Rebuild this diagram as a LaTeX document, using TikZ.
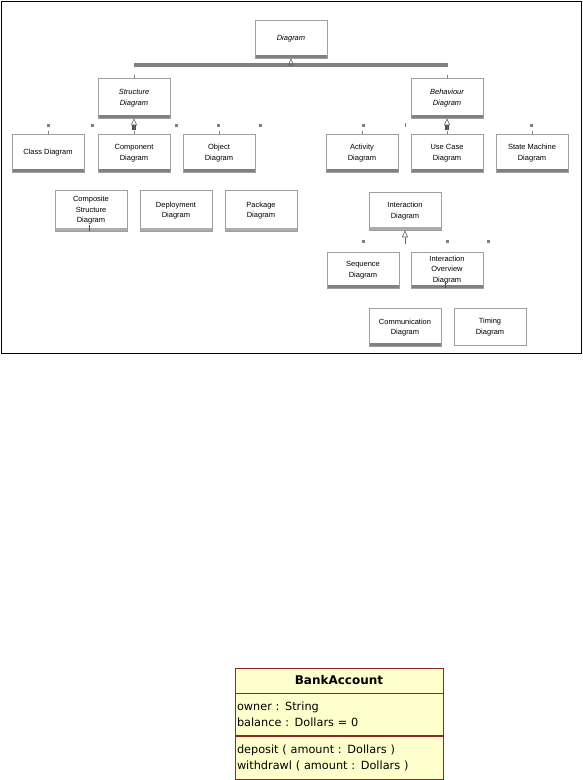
\documentclass[tikz,border=0pt]{standalone}
\usepackage{fontspec}
\setmainfont{Liberation Sans}
\newfontfamily\umlfont{DejaVu Sans}
\usetikzlibrary{positioning,arrows.meta}
\definecolor{barcol}{RGB}{128,128,128}
\definecolor{lightbar}{RGB}{172,172,172}
\definecolor{notecol}{RGB}{255,255,204}
\definecolor{edgecol}{RGB}{140,40,40}
\tikzset{
  kind/.style={draw=gray!75, fill=white, line width=0.5pt, minimum width=72, minimum height=38,
    inner sep=1pt, align=center, font=\fontsize{7.5}{10.5}\selectfont},
  shade bar/.style={path picture={\fill[#1] ([yshift=3.5pt]path picture bounding box.south west)
    rectangle (path picture bounding box.south east);}},
  kindbar/.style={kind, shade bar=barcol},
  kindlight/.style={kind, shade bar=lightbar},
  gen/.style={-{Triangle[open,length=7pt,width=6pt]}, line width=0.6pt, black!60},
  dot/.style={fill=barcol, minimum size=3pt, inner sep=0pt},
  tick/.style={line width=1pt, barcol},
  umlhead/.style={draw=edgecol, fill=notecol, line width=0.7pt, minimum width=208, minimum height=25,
    font=\umlfont\bfseries\fontsize{12}{14}\selectfont},
  umlpart/.style={draw=edgecol, fill=notecol, line width=0.7pt, text width=204pt, inner xsep=2pt,
    align=left, font=\umlfont\fontsize{11.3}{16}\selectfont}
}
\begin{document}
\begin{tikzpicture}[x=1pt,y=-1pt]
  \useasboundingbox (0,0) rectangle (583,780);
  \draw[line width=1pt] (1.5,1.5) rectangle (581.5,353.5);

  % top of the tree
  \node[kindbar, font=\fontsize{7.5}{10.5}\selectfont\itshape] (diagram) at (291,39) {Diagram};
  \node[kindbar, font=\fontsize{7.5}{10.5}\selectfont\itshape, minimum height=40] (structure) at (134,98) {Structure\\Diagram};
  \node[kindbar, font=\fontsize{7.5}{10.5}\selectfont\itshape, minimum height=40] (behaviour) at (447,98) {Behaviour\\Diagram};

  \coordinate (dj) at (291,65);
  \draw[line width=3.5pt, barcol] (134,65) -- (448,65);
  \draw[gen] (dj) -- (diagram.south);
  \draw[tick] (structure.north) -- ++(0,-3);
  \draw[tick] (behaviour.north) -- ++(0,-3);

  % structure side
  \node[kindbar] (class) at (48,153) {Class Diagram};
  \node[kindbar] (component) at (134,153) {Component\\Diagram};
  \node[kindbar] (object) at (219,153) {Object\\Diagram};
  \node[kindlight, minimum height=41] (composite) at (91,210.5) {Composite\\Structure\\Diagram};
  \node[kindlight, minimum height=41] (deployment) at (176,210.5) {Deployment\\Diagram};
  \node[kindlight, minimum height=41] (package) at (261,210.5) {Package\\Diagram};

  \coordinate (sj) at (134,130);
  \fill[black!70] (132,125) rectangle (136,130);
  \draw[gen] (sj) -- (structure.south);
  \foreach \x in {48,92,176,218,260}
    \node[dot] (s\x) at (\x,125) {};
  \foreach \n in {class,component,object}
    \draw[tick] (\n.north) -- ++(0,-3);
  \draw[tick, black!70] ([xshift=-2pt]composite.south) -- ++(0,-6);

  % behaviour side
  \node[kindbar] (activity) at (362,153) {Activity\\Diagram};
  \node[kindbar] (usecase) at (447,153) {Use Case\\Diagram};
  \node[kindbar] (statemachine) at (532,153) {State Machine\\Diagram};
  \node[kindlight] (interaction) at (405,211) {Interaction\\Diagram};
  \node[kindbar, minimum height=36] (sequence) at (363,270) {Sequence\\Diagram};
  \node[kindbar, minimum height=36] (overview) at (447,270) {Interaction\\Overview\\Diagram};
  \node[kindbar] (communication) at (405,327.5) {Communication\\Diagram};
  \node[kind, minimum height=37] (timing) at (490,327) {Timing\\Diagram};

  \coordinate (bj) at (447,130);
  \fill[black!70] (445,125) rectangle (449,130);
  \draw[gen] (bj) -- (behaviour.south);
  \foreach \x in {363,531}
    \node[dot] (b\x) at (\x,125) {};
  \draw[tick] (405,123) -- (405,127);
  \foreach \n in {activity,usecase,statemachine}
    \draw[tick] (\n.north) -- ++(0,-3);

  \coordinate (ij) at (405,244);
  \draw[gen] (ij) -- (interaction.south);
  \foreach \x in {363,447,488}
    \node[dot] (i\x) at (\x,241) {};
  \draw[tick, black!70] ([xshift=-2pt]overview.south) -- ++(0,-6);

  % class box
  \node[umlhead] (bank) at (339,680.5) {BankAccount};
  \node[umlpart, below=0pt of bank, minimum height=42] (attrs) {owner : String\\balance : Dollars = 0};
  \node[umlpart, below=0pt of attrs, minimum height=43] (ops) {deposit ( amount : Dollars )\\withdrawl ( amount : Dollars )};
\end{tikzpicture}
\end{document}
